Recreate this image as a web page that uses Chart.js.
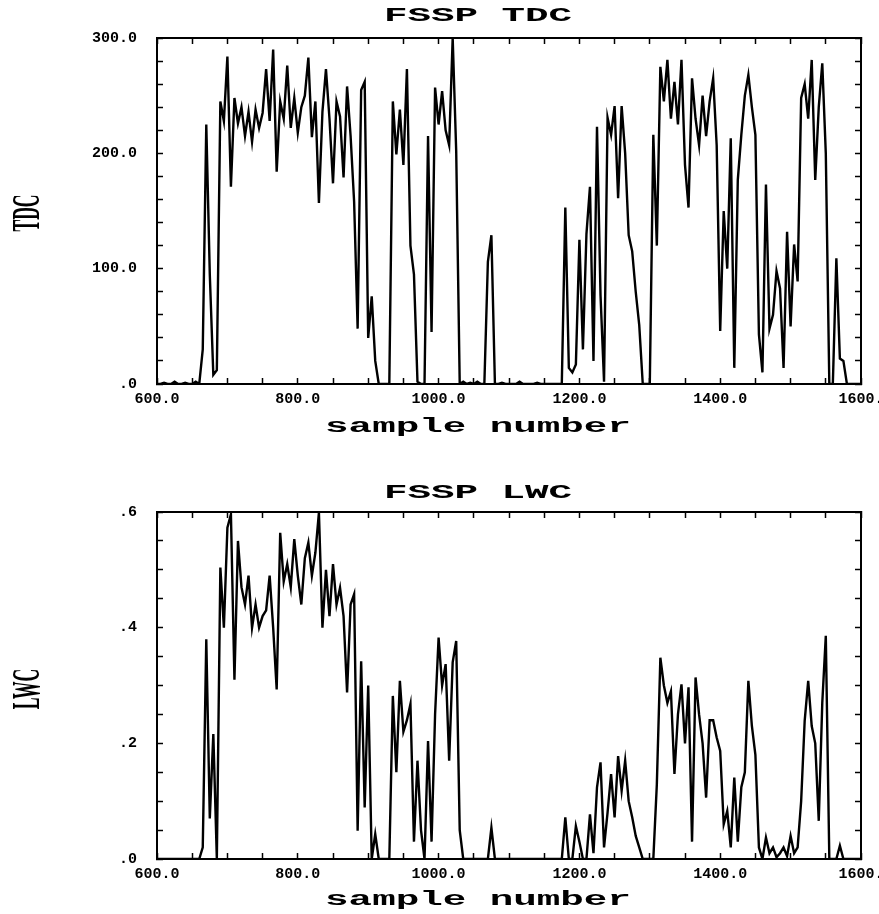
<!DOCTYPE html>
<html>
<head>
<meta charset="utf-8">
<script src="https://cdn.jsdelivr.net/npm/chart.js@4/dist/chart.umd.min.js"></script>
<style>
  html, body { margin: 0; padding: 0; background: #fff; }
  .panel { width: 879px; height: 457px; }
  canvas { display: block; }
</style>
</head>
<body>
<div class="panel"><canvas id="tdcChart" width="879" height="457"></canvas></div>
<div class="panel"><canvas id="lwcChart" width="879" height="457"></canvas></div>
<script>
// one reading every 5 samples, from sample 600 to 1600
const sampleStart = 600;
const sampleStep = 5;
const xTickLabels = ["600.0", "800.0", "1000.0", "1200.0", "1400.0", "1600."];
const tdcTickLabels = [".0", "100.0", "200.0", "300.0"];
const lwcTickLabels = [".0", ".2", ".4", ".6"];

const tdcValues = [
  0, 0, 1, 0, 0, 2, 0, 0, 1, 0,
  0, 2, 0, 30, 225, 95, 8, 12, 245, 228,
  284, 171, 248, 226, 240, 215, 236, 210, 238, 222,
  235, 273, 228, 290, 184, 245, 230, 276, 222, 248,
  218, 240, 250, 283, 214, 245, 157, 236, 273, 230,
  174, 245, 232, 179, 258, 215, 158, 48, 255, 262,
  40, 76, 20, 0, 0, 0, 0, 245, 199, 238,
  190, 273, 120, 95, 2, 0, 0, 215, 45, 257,
  225, 254, 220, 207, 300, 202, 0, 2, 0, 1,
  0, 2, 0, 0, 106, 129, 0, 0, 1, 0,
  0, 0, 0, 2, 0, 0, 0, 0, 1, 0,
  0, 0, 0, 0, 0, 0, 153, 14, 10, 17,
  125, 30, 130, 171, 20, 223, 77, 2, 231, 216,
  241, 161, 241, 200, 129, 115, 80, 51, 0, 0,
  0, 216, 120, 275, 245, 281, 230, 262, 225, 281,
  190, 153, 265, 230, 207, 250, 215, 245, 265, 207,
  46, 150, 100, 213, 14, 177, 216, 250, 268, 240,
  216, 43, 10, 173, 48, 60, 98, 83, 14, 132,
  50, 121, 89, 248, 260, 230, 281, 177, 240, 278,
  200, 0, 0, 109, 22, 20, 0, 0, 0, 0,
  0
];

const lwcValues = [
  0, 0, 0, 0, 0, 0, 0, 0, 0, 0,
  0, 0, 0, 0.02, 0.38, 0.07, 0.216, 0, 0.504, 0.40,
  0.573, 0.596, 0.31, 0.55, 0.47, 0.44, 0.49, 0.40, 0.44, 0.40,
  0.42, 0.43, 0.49, 0.40, 0.293, 0.564, 0.48, 0.51, 0.47, 0.553,
  0.49, 0.44, 0.52, 0.547, 0.49, 0.53, 0.599, 0.40, 0.50, 0.42,
  0.51, 0.44, 0.469, 0.42, 0.288, 0.44, 0.458, 0.049, 0.342, 0.089,
  0.30, 0, 0.043, 0, 0, 0, 0, 0.282, 0.15, 0.308,
  0.22, 0.24, 0.268, 0.03, 0.17, 0.05, 0, 0.204, 0.03, 0.25,
  0.383, 0.30, 0.337, 0.17, 0.34, 0.377, 0.05, 0, 0, 0,
  0, 0, 0, 0, 0, 0.054, 0, 0, 0, 0,
  0, 0, 0, 0, 0, 0, 0, 0, 0, 0,
  0, 0, 0, 0, 0, 0, 0.072, 0, 0, 0.057,
  0.03, 0, 0, 0.077, 0.01, 0.124, 0.167, 0.02, 0.08, 0.147,
  0.072, 0.178, 0.118, 0.17, 0.10, 0.072, 0.04, 0.02, 0, 0,
  0, 0, 0.129, 0.348, 0.30, 0.27, 0.29, 0.147, 0.25, 0.302,
  0.20, 0.297, 0.03, 0.314, 0.25, 0.20, 0.106, 0.24, 0.24, 0.21,
  0.187, 0.06, 0.083, 0.02, 0.141, 0.03, 0.124, 0.15, 0.308, 0.23,
  0.18, 0.02, 0, 0.037, 0.01, 0.02, 0.003, 0.01, 0.02, 0.005,
  0.04, 0.01, 0.02, 0.10, 0.239, 0.308, 0.23, 0.20, 0.066, 0.27,
  0.386, 0, 0, 0, 0.023, 0, 0, 0, 0, 0,
  0
];

const sampleEnd = sampleStart + sampleStep * (tdcValues.length - 1);

// draw text squeezed or stretched sideways, like the old plotter lettering
function stretchText(ctx, text, x, y, font, sx) {
  ctx.save();
  ctx.translate(x, y);
  ctx.scale(sx, 1);
  ctx.font = font;
  ctx.fillText(text, 0, 0);
  ctx.restore();
}

const plotText = {
  id: "plotText",
  afterDraw(chart, args, opts) {
    const ctx = chart.ctx;
    ctx.save();
    ctx.fillStyle = "#000";
    ctx.textAlign = "center";
    ctx.textBaseline = "middle";
    stretchText(ctx, opts.title, opts.textX, opts.titleY, 'bold 20px "Liberation Mono"', 1.96);
    stretchText(ctx, "sample number", opts.textX, opts.xTitleY, 'bold 20px "Liberation Mono"', 1.96);
    ctx.translate(opts.yTitleX, opts.yTitleY);
    ctx.rotate(-Math.PI / 2);
    stretchText(ctx, opts.yTitle, 0, 0, 'bold 40px "Liberation Serif"', 0.44);
    ctx.restore();
  }
};

const tickFont = { family: "Liberation Mono", weight: "bold", size: 15 };
const frameBorder = { display: true, color: "#000", width: 2 };
//ticks point into the plot, on all four sides
const inwardGrid = () => ({
  display: true,
  drawOnChartArea: false,
  drawTicks: true,
  tickLength: -6,
  tickWidth: 1.5,
  tickColor: "#000"
});
// keep label overhang from shrinking the plot box
function fixBox(s, w, h) {
  if (w !== null) s.width = w;
  if (h !== null) s.height = h;
  s.paddingLeft = 0;
  s.paddingRight = 0;
  s.paddingTop = 0;
  s.paddingBottom = 0;
}

function makePanel(canvasId, values, yMax, yStep, yLabels, labelEvery, text, top, bottomSpace) {
  return new Chart(document.getElementById(canvasId), {
    type: "line",
    plugins: [plotText],
    data: {
      datasets: [{
        data: values.map((v, i) => ({ x: sampleStart + i * sampleStep, y: v })),
        borderColor: "#000",
        borderWidth: 2.4,
        pointRadius: 0,
        tension: 0,
        fill: false
      }]
    },
    options: {
      responsive: false,
      animation: false,
      layout: { autoPadding: false, padding: { top: top, right: 18, bottom: 0, left: 0 } },
      plugins: {
        legend: { display: false },
        tooltip: { enabled: false },
        plotText: text
      },
      scales: {
        x: {
          type: "linear", position: "bottom", min: sampleStart, max: sampleEnd,
          grid: inwardGrid(), border: frameBorder,
          ticks: {
            stepSize: 50, autoSkip: false, maxRotation: 0, minRotation: 0,
            padding: 12, color: "#000", font: tickFont,
            callback: (v, i) => (i % 4 === 0 ? xTickLabels[i / 4] : "")
          },
          afterFit: (s) => fixBox(s, null, bottomSpace)
        },
        xTop: {
          type: "linear", position: "top", min: sampleStart, max: sampleEnd,
          grid: inwardGrid(), border: frameBorder,
          ticks: { display: false, stepSize: 50, autoSkip: false },
          afterFit: (s) => fixBox(s, null, 0)
        },
        y: {
          type: "linear", position: "left", min: 0, max: yMax,
          grid: inwardGrid(), border: frameBorder,
          ticks: {
            stepSize: yStep, autoSkip: false, padding: 26, color: "#000", font: tickFont,
            callback: (v, i) => (i % labelEvery === 0 ? yLabels[i / labelEvery] : "")
          },
          afterFit: (s) => fixBox(s, 157, null)
        },
        yRight: {
          type: "linear", position: "right", min: 0, max: yMax,
          grid: inwardGrid(), border: frameBorder,
          ticks: { display: false, stepSize: yStep, autoSkip: false },
          afterFit: (s) => fixBox(s, 0, null)
        }
      }
    }
  });
}

makePanel("tdcChart", tdcValues, 300, 20, tdcTickLabels, 5,
  { title: "FSSP TDC", yTitle: "TDC", textX: 478, titleY: 16, xTitleY: 427, yTitleX: 29, yTitleY: 213 },
  38, 73);

makePanel("lwcChart", lwcValues, 0.6, 0.05, lwcTickLabels, 4,
  { title: "FSSP LWC", yTitle: "LWC", textX: 478, titleY: 36, xTitleY: 443, yTitleX: 29, yTitleY: 232 },
  55, 55);
</script>
</body>
</html>
